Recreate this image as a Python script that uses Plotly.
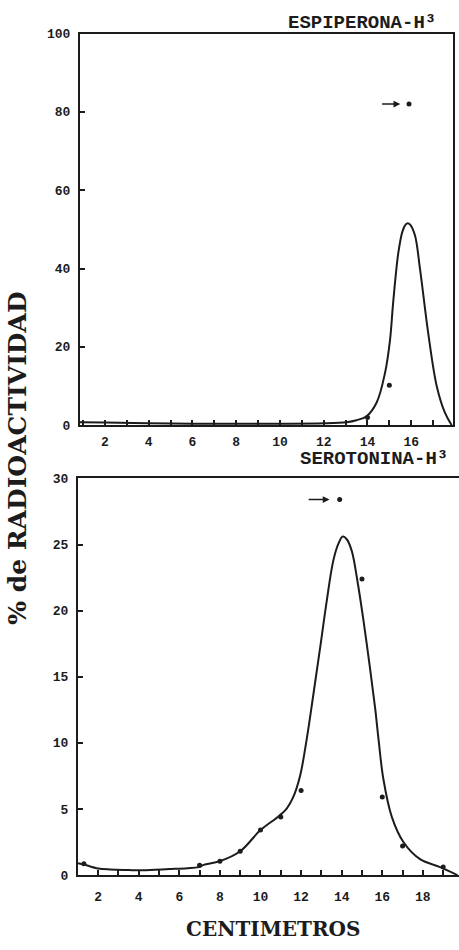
import plotly.graph_objects as go

# ---------------- data ----------------
# Top panel: ESPIPERONA-H3
top_curve_x = [0.86, 2, 4, 6, 8, 10, 12, 13.05, 13.5, 13.96, 14.42, 14.8, 15.03, 15.18,
               15.41, 15.6, 15.75, 15.84, 15.95, 16.17, 16.4, 16.78, 17.17, 17.54, 17.85]
top_curve_y = [0.8, 0.7, 0.5, 0.4, 0.4, 0.4, 0.5, 0.8, 1.3, 2.3, 5.8, 13.3, 21.7, 31.7,
               44, 49.5, 51.3, 51.6, 51.2, 48.5, 40, 23.4, 9.9, 3.2, 0]
top_pts_x = [14, 15]
top_pts_y = [2.0, 10.2]
top_std_x = [15.9]
top_std_y = [82]
top_arrow_from = [14.6]
top_arrow_to = [15.5]

# Bottom panel: SEROTONINA-H3
bot_curve_x = [1.01, 1.3, 2.0, 2.6, 3.5, 4.2, 5.5, 6.4, 6.95, 7.2, 8.0, 9.0, 10.0, 10.9,
               11.3, 11.6, 11.95, 12.28, 12.6, 12.93, 13.27, 13.59, 13.85, 14.05, 14.25, 14.5,
               14.77, 15.07, 15.4, 15.65, 15.82, 16.05, 16.47, 17.04, 17.86, 18.85, 19.7]
bot_curve_y = [0.9, 0.8, 0.5, 0.42, 0.38, 0.36, 0.45, 0.52, 0.6, 0.77, 1.05, 1.8, 3.4, 4.45,
               5.05, 5.85, 7.5, 10.3, 13.6, 17.1, 20.8, 23.8, 25.1, 25.6, 25.4, 24.5,
               22.3, 19.3, 15.6, 12.6, 10.2, 7.3, 4.4, 2.5, 1.2, 0.6, 0.0]
bot_pts_x = [1.3, 7, 8, 9, 10, 11, 12, 15, 16, 17, 19]
bot_pts_y = [0.85, 0.75, 1.05, 1.8, 3.4, 4.4, 6.4, 22.4, 5.9, 2.2, 0.6]
bot_std_x = [13.9]
bot_std_y = [28.4]
bot_arrow_from = [12.3]
bot_arrow_to = [13.4]

top_xticks = [2, 4, 6, 8, 10, 12, 14, 16]
top_yticks = [0, 20, 40, 60, 80, 100]
bot_xticks = [2, 4, 6, 8, 10, 12, 14, 16, 18]
bot_yticks = [0, 5, 10, 15, 20, 25, 30]

# ---------------- figure ----------------
INK = "#1c1c1c"
fig = go.Figure()

fig.add_trace(go.Scatter(x=top_curve_x, y=top_curve_y, mode="lines",
                         line=dict(color=INK, width=2, shape="spline", smoothing=1.0),
                         xaxis="x", yaxis="y", showlegend=False, hoverinfo="skip"))
fig.add_trace(go.Scatter(x=top_pts_x, y=top_pts_y, mode="markers",
                         marker=dict(color=INK, size=5), xaxis="x", yaxis="y", showlegend=False))
fig.add_trace(go.Scatter(x=top_std_x, y=top_std_y, mode="markers",
                         marker=dict(color=INK, size=5), xaxis="x", yaxis="y", showlegend=False))

fig.add_trace(go.Scatter(x=bot_curve_x, y=bot_curve_y, mode="lines",
                         line=dict(color=INK, width=2, shape="spline", smoothing=1.0),
                         xaxis="x2", yaxis="y2", showlegend=False, hoverinfo="skip"))
fig.add_trace(go.Scatter(x=bot_pts_x, y=bot_pts_y, mode="markers",
                         marker=dict(color=INK, size=5), xaxis="x2", yaxis="y2", showlegend=False))
fig.add_trace(go.Scatter(x=bot_std_x, y=bot_std_y, mode="markers",
                         marker=dict(color=INK, size=5), xaxis="x2", yaxis="y2", showlegend=False))

tickfont = dict(family="Liberation Mono", size=13, color=INK, weight="bold")

axis_common = dict(showgrid=False, zeroline=False, showline=True, linecolor=INK, linewidth=2,
                   ticks="inside", ticklen=5, tickwidth=1.5, tickcolor=INK, tickfont=tickfont)
minor_ticks = dict(dtick=1, tick0=0, ticks="inside", ticklen=5, tickwidth=1.5, tickcolor=INK)

fig.update_layout(
    width=459, height=950,
    margin=dict(l=0, r=0, t=0, b=0),
    paper_bgcolor="white", plot_bgcolor="white",
    xaxis=dict(domain=[80 / 459, 453 / 459], range=[0.86, 17.91], anchor="y",
               tickvals=top_xticks, mirror=True, minor=minor_ticks,
               ticklabelstandoff=3, **axis_common),
    yaxis=dict(domain=[(950 - 426) / 950, (950 - 28) / 950], range=[0, 100], anchor="x",
               tickvals=top_yticks, mirror=True, ticklabelstandoff=5, **axis_common),
    xaxis2=dict(domain=[78 / 459, 1.0], range=[1.01, 19.78], anchor="y2",
                tickvals=bot_xticks, mirror=True, minor=minor_ticks,
                ticklabelstandoff=8, **axis_common),
    yaxis2=dict(domain=[(950 - 883) / 950, (950 - 480) / 950], range=[0, 30], anchor="x2",
                tickvals=bot_yticks, ticklabelstandoff=5, **axis_common),
)

title_font = dict(family="Liberation Mono", size=19, color=INK, weight="bold")
fig.add_annotation(text="ESPIPERONA-H³", xref="paper", yref="paper",
                   x=362 / 459, y=(950 - 17) / 950, showarrow=False, font=title_font,
                   xanchor="center", yanchor="middle")
fig.add_annotation(text="SEROTONINA-H³", xref="paper", yref="paper",
                   x=374 / 459, y=(950 - 460) / 950, showarrow=False, font=title_font,
                   xanchor="center", yanchor="middle")
fig.add_annotation(text="CENTIMETROS", xref="paper", yref="paper",
                   x=273 / 459, y=(950 - 938) / 950, showarrow=False,
                   font=dict(family="DejaVu Serif", size=20, color=INK, weight="bold"),
                   xanchor="center", yanchor="middle")
fig.add_annotation(text="% de RADIOACTIVIDAD", xref="paper", yref="paper",
                   x=18 / 459, y=(950 - 460) / 950, showarrow=False, textangle=-90,
                   font=dict(family="DejaVu Serif", size=25, color=INK, weight="bold"),
                   xanchor="center", yanchor="middle")

# arrows pointing to standard markers
fig.add_annotation(x=top_arrow_to[0], y=top_std_y[0], ax=top_arrow_from[0], ay=top_std_y[0],
                   xref="x", yref="y", axref="x", ayref="y", text="", showarrow=True,
                   arrowhead=2, arrowsize=0.9, arrowwidth=1.5, arrowcolor=INK)
fig.add_annotation(x=bot_arrow_to[0], y=bot_std_y[0], ax=bot_arrow_from[0], ay=bot_std_y[0],
                   xref="x2", yref="y2", axref="x2", ayref="y2", text="", showarrow=True,
                   arrowhead=2, arrowsize=0.9, arrowwidth=1.5, arrowcolor=INK)

fig.write_html("out.html")
